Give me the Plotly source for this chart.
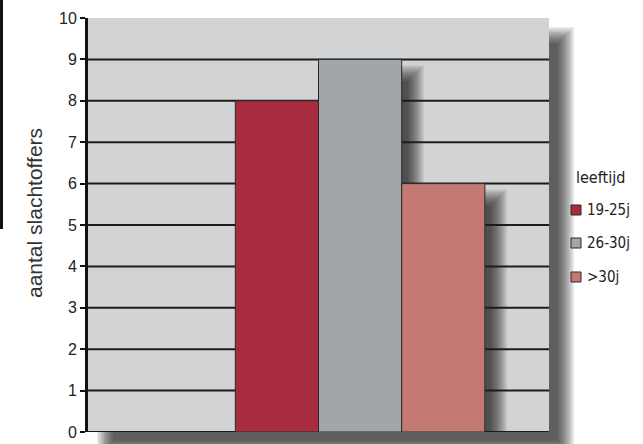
import plotly.graph_objects as go

# ---------------- data ----------------
categories = ["19-25j", "26-30j", ">30j"]
values = [8, 9, 6]
colors = ["#a82c3f", "#a3a6a9", "#c47a72"]
y_ticks = [0, 1, 2, 3, 4, 5, 6, 7, 8, 9, 10]
grid_vals = [0, 1, 2, 3, 4, 5, 6, 7, 8, 9]
y_title = "aantal slachtoffers"
legend_title = "leeftijd"

# ---------------- layout constants ----------------
W, H = 643, 444
L, R, T, B = 88, 94, 18, 12
PW, PH = W - L - R, H - T - B
BAR_PX = 83
x_lo = -0.5 - 147 / BAR_PX
x_hi = len(categories) - 0.5 + 64 / BAR_PX
px_x = PW / (x_hi - x_lo)
Y_MAX = 10
px_y = PH / Y_MAX

SANS = "Liberation Sans, Arial, sans-serif"
NARROW = "DejaVu Sans Condensed, Liberation Sans Narrow, Arial Narrow, sans-serif"


def to_paper_x(px):
    return (px - L) / PW


def to_paper_y(py):
    return (H - B - py) / PH


shapes = []

# --- drop shadow of the plot area (paper coords, drawn below) ---
SH_D, SH_R, SH_K, SH_A = 17, 9, 8, 0.115
for k in range(SH_K):
    e = SH_R * (1 - 2 * (k + 0.5) / SH_K)
    sx0, sy0 = L + SH_D - e, T + SH_D - e
    sx1, sy1 = L + PW + SH_D + e, T + PH + SH_D + e
    shapes.append(dict(type="rect", xref="paper", yref="paper", layer="below",
                       x0=to_paper_x(sx0), x1=to_paper_x(sx1),
                       y0=to_paper_y(sy1), y1=to_paper_y(sy0),
                       fillcolor=f"rgba(0,0,0,{SH_A})", line_width=0))
# plot background on top of the shadow
shapes.append(dict(type="rect", xref="paper", yref="paper", layer="below",
                   x0=0, x1=1, y0=0, y1=1, fillcolor="#d2d3d5", line_width=0))

# --- bar shadows (data coords, below grid) ---
BS_D, BS_R, BS_K, BS_A = 14, 9, 8, 0.11
for i, v in enumerate(values):
    for k in range(BS_K):
        e = BS_R * (1 - 2 * (k + 0.5) / BS_K)
        shapes.append(dict(type="rect", xref="x", yref="y", layer="below",
                           x0=i - 0.5 + (BS_D - e) / px_x,
                           x1=i + 0.5 + (BS_D + e) / px_x,
                           y0=0 - (BS_D + e) / px_y,
                           y1=v - (BS_D - e) / px_y,
                           fillcolor=f"rgba(0,0,0,{BS_A})", line_width=0))

# --- gridlines ---
for g in grid_vals:
    shapes.append(dict(type="line", xref="x", yref="y", layer="between",
                       x0=x_lo, x1=x_hi, y0=g, y1=g,
                       line=dict(color="#1c1c1c", width=2)))

# --- black bar on the far left ---
shapes.append(dict(type="rect", xref="paper", yref="paper", layer="above",
                   x0=to_paper_x(0), x1=to_paper_x(3),
                   y0=to_paper_y(229), y1=to_paper_y(0),
                   fillcolor="#111111", line_width=0))

fig = go.Figure()
for i, (c, v, col) in enumerate(zip(categories, values, colors)):
    fig.add_trace(go.Bar(x=[i], y=[v], name=c, width=1, showlegend=False,
                         marker=dict(color=col, line=dict(color="#2a2a2a", width=1))))

annotations = []
# y-axis title
annotations.append(dict(text=y_title, xref="paper", yref="paper",
                        x=to_paper_x(34), y=to_paper_y(213), textangle=-90,
                        showarrow=False, xanchor="center", yanchor="middle",
                        font=dict(family=SANS, size=21, color="#333333")))
# manual legend
annotations.append(dict(text=legend_title, xref="paper", yref="paper",
                        x=to_paper_x(574), y=to_paper_y(177), showarrow=False,
                        xanchor="left", yanchor="middle",
                        font=dict(family=NARROW, size=16, color="#222222")))
LEG_Y = [210, 243, 277]
for c, col, ly in zip(categories, colors, LEG_Y):
    shapes.append(dict(type="rect", xref="paper", yref="paper", layer="above",
                       x0=to_paper_x(571), x1=to_paper_x(581),
                       y0=to_paper_y(ly + 5), y1=to_paper_y(ly - 5),
                       fillcolor=col, line=dict(color="#2a2a2a", width=1)))
    annotations.append(dict(text=c, xref="paper", yref="paper",
                            x=to_paper_x(585), y=to_paper_y(ly), showarrow=False,
                            xanchor="left", yanchor="middle",
                            font=dict(family=NARROW, size=15, color="#222222")))

fig.update_layout(
    width=W, height=H,
    margin=dict(l=L, r=R, t=T, b=B, pad=0, autoexpand=False),
    paper_bgcolor="white",
    plot_bgcolor="rgba(0,0,0,0)",
    barmode="overlay",
    showlegend=False,
    shapes=shapes,
    annotations=annotations,
    xaxis=dict(range=[x_lo, x_hi], visible=False, fixedrange=True, automargin=False),
    yaxis=dict(range=[0, Y_MAX], tickvals=y_ticks, showgrid=False, zeroline=False,
               showline=True, linecolor="#111111", linewidth=3,
               ticks="outside", ticklen=5, tickwidth=2, tickcolor="#111111",
               tickfont=dict(family=SANS, size=16, color="#222222"),
               fixedrange=True, automargin=False),
)

fig.write_html("out.html", config={"displayModeBar": False},
               post_script="document.body.style.margin='0';document.body.style.overflow='hidden';")
